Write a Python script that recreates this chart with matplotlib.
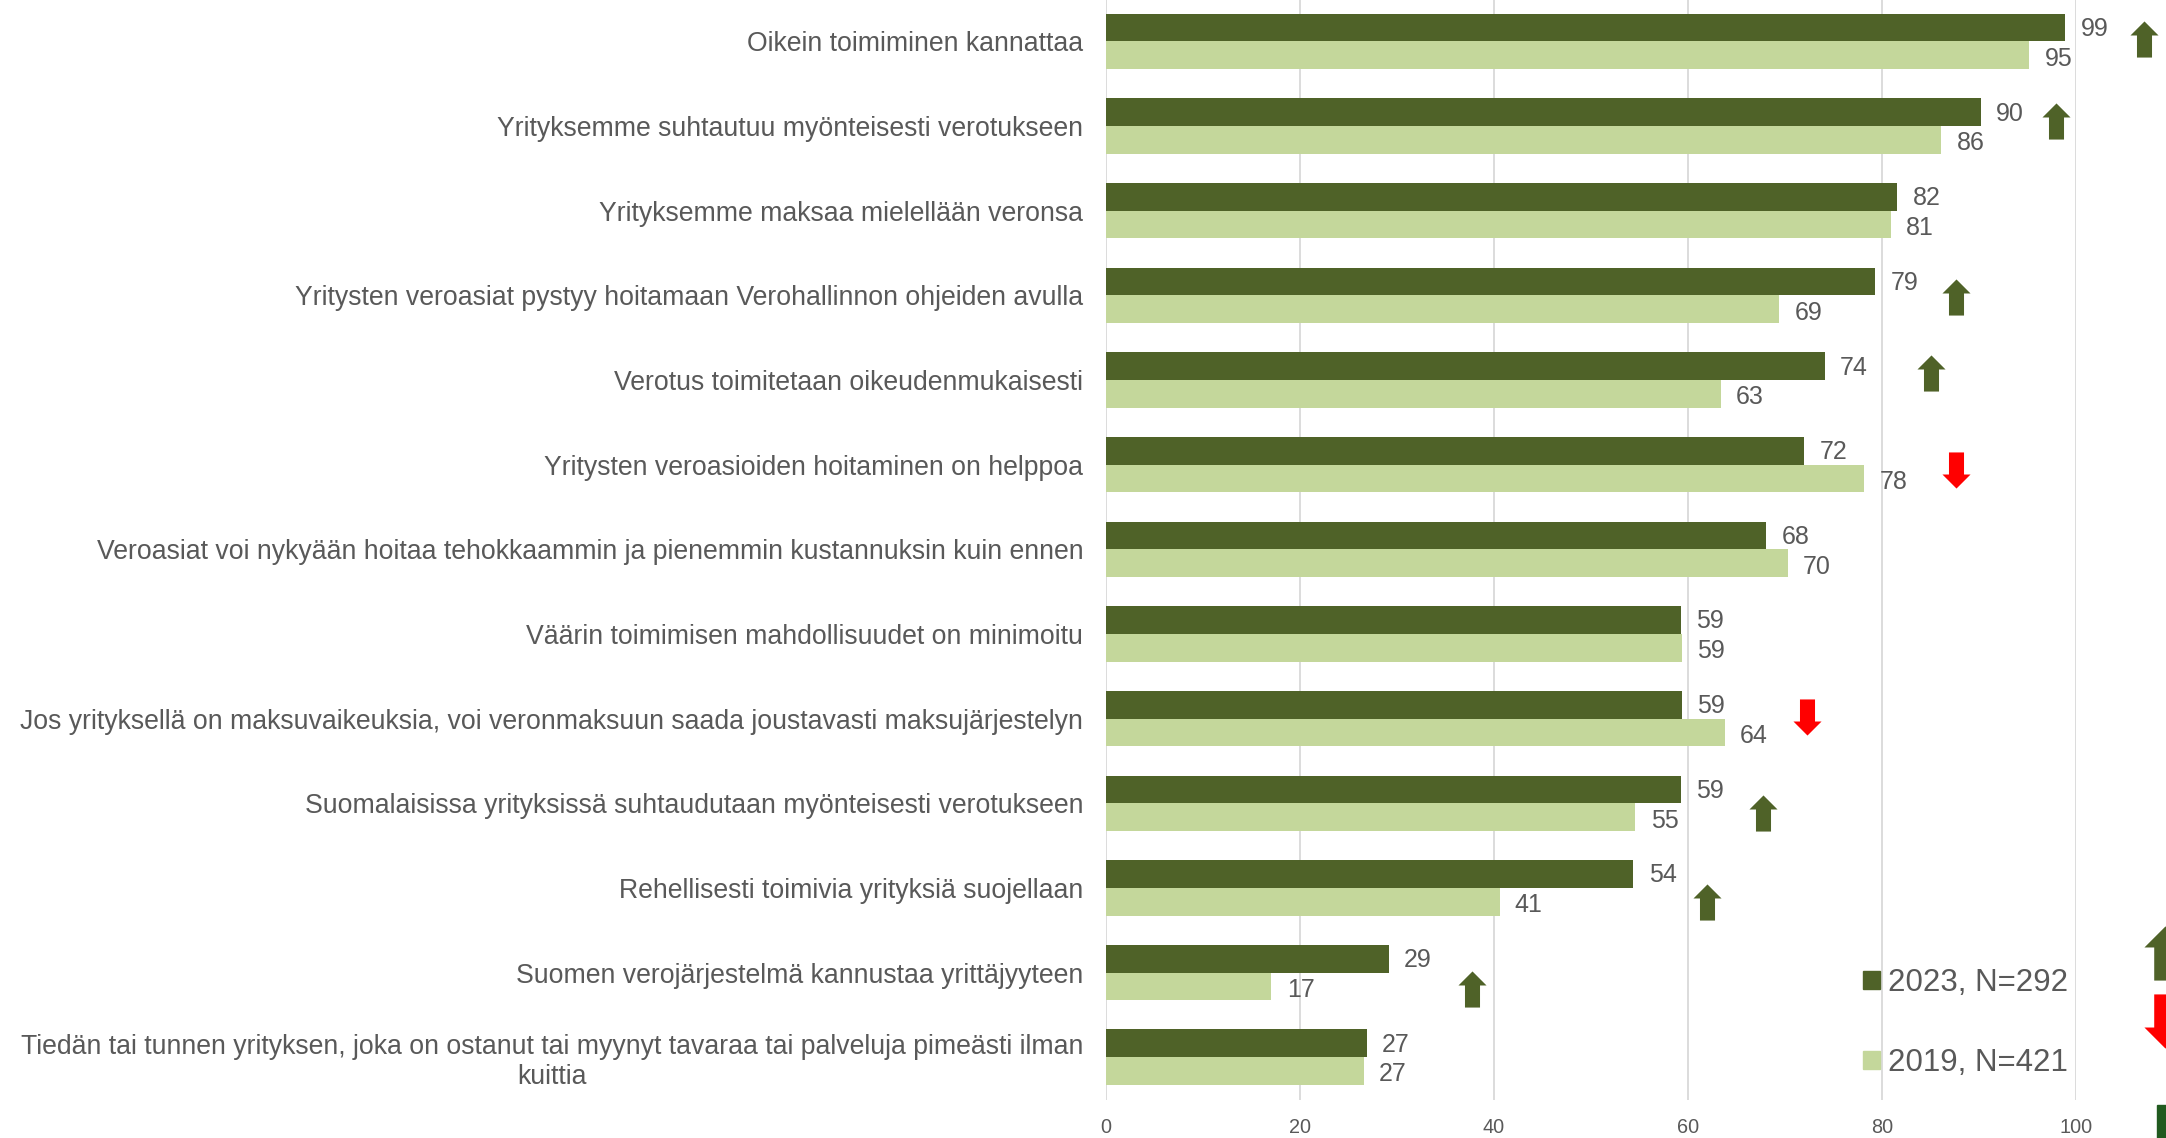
import numpy as np
import matplotlib
matplotlib.use("Agg")
import matplotlib.pyplot as plt
from matplotlib.path import Path
from matplotlib.patches import Rectangle, Patch

plt.rcParams['font.family'] = ['Liberation Sans', 'DejaVu Sans']

# --- data (top to bottom) ---
categories = [
    "Oikein toimiminen kannattaa",
    "Yrityksemme suhtautuu myönteisesti verotukseen",
    "Yrityksemme maksaa mielellään veronsa",
    "Yritysten veroasiat pystyy hoitamaan Verohallinnon ohjeiden avulla",
    "Verotus toimitetaan oikeudenmukaisesti",
    "Yritysten veroasioiden hoitaminen on helppoa",
    "Veroasiat voi nykyään hoitaa tehokkaammin ja pienemmin kustannuksin kuin ennen",
    "Väärin toimimisen mahdollisuudet on minimoitu",
    "Jos yrityksellä on maksuvaikeuksia, voi veronmaksuun saada joustavasti maksujärjestelyn",
    "Suomalaisissa yrityksissä suhtaudutaan myönteisesti verotukseen",
    "Rehellisesti toimivia yrityksiä suojellaan",
    "Suomen verojärjestelmä kannustaa yrittäjyyteen",
    "Tiedän tai tunnen yrityksen, joka on ostanut tai myynyt tavaraa tai palveluja pimeästi ilman\nkuittia",
]
vals_2023 = [98.9, 90.2, 81.6, 79.3, 74.1, 72.0, 68.1, 59.3, 59.4, 59.3, 54.4, 29.2, 26.9]
vals_2019 = [95.2, 86.1, 80.9, 69.4, 63.4, 78.2, 70.3, 59.4, 63.8, 54.6, 40.6, 17.1, 26.6]
series_names = ["2023, N=292", "2019, N=421"]

# change arrows: row index, direction, x position (data units), vertical offset (rows)
arrow_rows = [0, 1, 3, 4, 5, 8, 9, 10, 11]
arrow_dirs = ['up', 'up', 'up', 'up', 'down', 'down', 'up', 'up', 'up']
arrow_x = [107.0, 97.9, 87.6, 85.1, 87.6, 72.3, 67.7, 62.0, 37.8]
arrow_dy = [-0.03, -0.06, 0.02, -0.08, 0.06, -0.02, 0.12, 0.17, 0.20]

DARK = '#4F6228'
LIGHT = '#C4D79B'
RED = '#FF0000'
TXT = '#595959'

W, H = 2166, 1138
fig = plt.figure(figsize=(W / 100, H / 100), dpi=100)
ax = fig.add_axes([1105.5 / W, 1 - 1100 / H, (2076 - 1105.5) / W, 1100 / H])

y = np.arange(len(categories))
h = 0.327
ax.barh(y - h / 2, vals_2023, height=h, color=DARK, label=series_names[0], zorder=2)
ax.barh(y + h / 2, vals_2019, height=h, color=LIGHT, label=series_names[1], zorder=2)

for yi, v in zip(y, vals_2023):
    ax.annotate(f"{v:.0f}", (v, yi - h / 2), xytext=(11, -1), textcoords='offset points',
                va='center', ha='left', fontsize=18, color=TXT)
for yi, v in zip(y, vals_2019):
    ax.annotate(f"{v:.0f}", (v, yi + h / 2), xytext=(11, -2.5), textcoords='offset points',
                va='center', ha='left', fontsize=18, color=TXT)

# block arrow marker
up_verts = [(-7.5, -18), (7.5, -18), (7.5, 4), (14, 4), (0, 18), (-14, 4), (-7.5, 4), (-7.5, -18)]
up_arrow = Path(up_verts, closed=True)
down_arrow = Path([(vx, -vy) for vx, vy in up_verts], closed=True)

for r, d, ax_x, dy in zip(arrow_rows, arrow_dirs, arrow_x, arrow_dy):
    mk = up_arrow if d == 'up' else down_arrow
    col = DARK if d == 'up' else RED
    ax.plot(ax_x, r + dy, marker=mk, markersize=26, color=col, markeredgewidth=0,
            clip_on=False, zorder=4)

ax.set_xlim(0, 100)
ax.set_ylim(12.506, -0.489)
ax.set_xticks(range(0, 101, 20))
ax.set_yticks(y)
ax.set_yticklabels(categories)
for t in ax.get_yticklabels():
    t.set_multialignment('center')
ax.tick_params(axis='y', length=0, pad=16, labelsize=19.2, labelcolor=TXT)
ax.tick_params(axis='x', length=0, pad=13, labelsize=14.3, labelcolor=TXT)
ax.grid(axis='x', color='#D9D9D9', linewidth=1.3, zorder=0)
ax.set_axisbelow(True)
for s in ax.spines.values():
    s.set_visible(False)

handles = [Patch(color=DARK), Patch(color=LIGHT)]
fig.legend(handles, series_names, loc='center left', bbox_to_anchor=(1863 / W, 1 - 1023 / H),
           frameon=False, fontsize=22.5, labelcolor=TXT, handlelength=0.53, handleheight=0.53,
           handletextpad=0.27, labelspacing=1.6, borderpad=0, borderaxespad=0)

# cut-off decorations on the right edge
ov = fig.add_axes([0, 0, 1, 1], zorder=5)
ov.set_xlim(0, W)
ov.set_ylim(H, 0)
ov.axis('off')
ov.plot(2165, 953, marker=up_arrow, markersize=39, color=DARK, markeredgewidth=0, clip_on=False)
ov.plot(2165, 1021, marker=down_arrow, markersize=39, color=RED, markeredgewidth=0, clip_on=False)
ov.add_patch(Rectangle((2157, 1105), 12, 40, color='#215A1F', clip_on=False))

fig.savefig("out.png", dpi=100)
